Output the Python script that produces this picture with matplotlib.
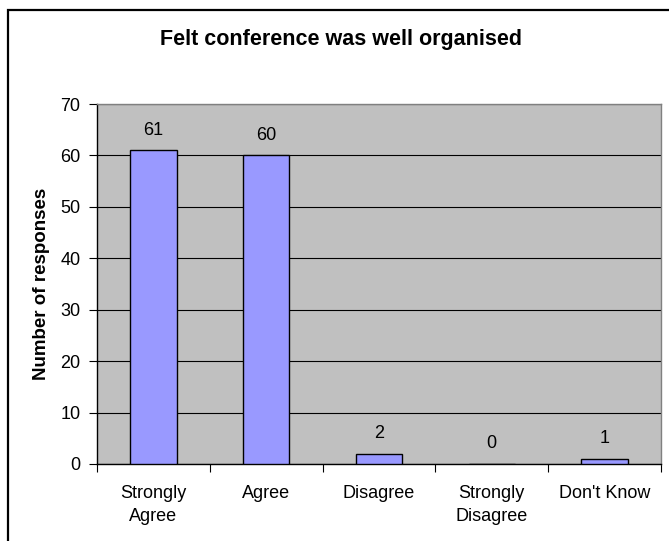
import matplotlib
matplotlib.use("Agg")
import matplotlib.pyplot as plt
from matplotlib.patches import Rectangle

categories = ["Strongly\nAgree", "Agree", "Disagree", "Strongly\nDisagree", "Don't Know"]
values = [61, 60, 2, 0, 1]
yticks = [0, 10, 20, 30, 40, 50, 60, 70]
title = "Felt conference was well organised"
ylabel = "Number of responses"

plt.rcParams['font.family'] = ['Liberation Sans', 'DejaVu Sans']

W, H = 669, 541
fig = plt.figure(figsize=(W / 100, H / 100), dpi=100)
fig.patch.set_facecolor('white')

# outer frame
fig.patches.append(Rectangle((8 / W, -0.05), 1.2, 1 - 10 / H + 0.05, transform=fig.transFigure,
                             fill=False, edgecolor='black', linewidth=1.6, clip_on=False))

left, right, top, bottom = 97, 661, 104, 464
ax = fig.add_axes([left / W, 1 - bottom / H, (right - left) / W, (bottom - top) / H])
ax.set_facecolor('#C0C0C0')

x = list(range(len(categories)))
bars = ax.bar(x, values, width=0.41, color='#9999FF', edgecolor='black', linewidth=1.0, zorder=3)
for xi, v in zip(x, values):
    ax.text(xi, v + 3.9, str(v), ha='center', va='center', fontsize=13, zorder=4)

ax.set_xlim(-0.5, len(categories) - 0.5)
ax.set_ylim(0, 70)
ax.set_yticks(yticks)
ax.set_yticklabels([str(t) for t in yticks], fontsize=13)
ax.yaxis.grid(True, color='black', linewidth=0.8, zorder=1)
ax.set_axisbelow(True)

ax.set_xticks(x)
ax.set_xticklabels(categories, fontsize=13, linespacing=1.5)
ax.tick_params(axis='x', length=0, pad=15)
ax.set_xticks([i - 0.5 for i in range(len(categories) + 1)], minor=True)
ax.tick_params(axis='x', which='minor', length=6, width=0.8, direction='out')
ax.tick_params(axis='y', length=6, width=0.8, direction='out', pad=6)

for s in ['top', 'right']:
    ax.spines[s].set_color('#808080')
    ax.spines[s].set_linewidth(1.0)
for s in ['left', 'bottom']:
    ax.spines[s].set_color('black')
    ax.spines[s].set_linewidth(1.0)

fig.text(42 / W, 1 - 284 / H, ylabel, rotation=90, ha='center', va='center',
         fontsize=13.5, fontweight='bold')
fig.text(341 / W, 1 - 40 / H, title, ha='center', va='center', fontsize=15.5, fontweight='bold')

fig.savefig('out.png', dpi=100)
